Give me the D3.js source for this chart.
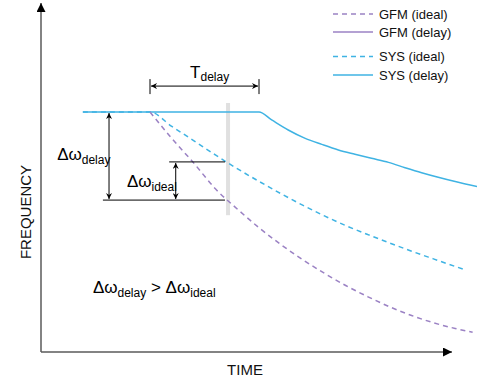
<!DOCTYPE html>
<html>
<head>
<meta charset="utf-8">
<script src="https://cdn.jsdelivr.net/npm/d3@7"></script>
<style>
  html, body { margin: 0; padding: 0; background: #fff; }
  svg { display: block; font-family: "Liberation Sans", Arial, Helvetica, sans-serif; }
</style>
</head>
<body>
<svg id="chart" width="477" height="385"></svg>
<script>
// ---- Data (time units 0..100, frequency units, nominal = 100) ----
const sysDelayT = [9.6, 50, 52.9, 56.7, 60.6, 64.4, 68.2, 72.0, 75.8, 79.7, 83.5, 87.3, 91.1, 95.0, 100];
const sysDelayF = [100, 100, 96.7, 92.5, 89.0, 86.5, 84.2, 82.4, 80.7, 79.0, 76.8, 74.7, 72.8, 71.0, 68.9];

const sysIdealT = [9.6, 25, 30, 35, 40, 45, 50, 55, 60, 65, 70, 75, 80, 85, 90, 97];
const sysIdealF = [100, 100, 94, 88.1, 82.1, 76.4, 71.1, 66.0, 61.2, 56.7, 52.6, 48.9, 45.4, 42.0, 38.8, 34.4];

const gfmIdealT = [25, 30, 35, 40, 45, 50, 55, 60, 65, 70, 75, 80, 85, 90, 95, 99];
const gfmIdealF = [100, 89, 78.8, 68, 59.6, 51.8, 44.8, 38.5, 32.8, 27.6, 23.0, 18.8, 15.2, 12.2, 9.8, 8.2];

const legendLabels = ["GFM (ideal)", "GFM (delay)", "SYS (ideal)", "SYS (delay)"];

// annotation values
const tStart = 25, tEnd = 50;          // T_delay span
const tMarker = 42.2;                  // measurement instant
const fNominal = 100;
const fAtMarkerSys = 79.2;             // SYS ideal at marker
const fAtMarkerGfm = 63.3;             // GFM ideal at marker

const svg = d3.select("#chart");

const x = d3.scaleLinear().domain([0, 100]).range([41, 477]);
const y = d3.scaleLinear().domain([0, 100]).range([352, 112]);

const BLUE = "#3fb3e3";
const PURPLE = "#9b82c4";
const AXIS = "#5a5a5a";

// markers
const defs = svg.append("defs");
defs.append("marker").attr("id", "axArrow").attr("viewBox", "0 0 10 10")
  .attr("refX", 10).attr("refY", 5).attr("markerWidth", 10).attr("markerHeight", 9)
  .attr("markerUnits", "userSpaceOnUse").attr("orient", "auto")
  .append("path").attr("d", "M0,0 L10,5 L0,10 Z").attr("fill", "#000");
defs.append("marker").attr("id", "annEnd").attr("viewBox", "0 0 10 10")
  .attr("refX", 10).attr("refY", 5).attr("markerWidth", 8).attr("markerHeight", 6)
  .attr("markerUnits", "userSpaceOnUse").attr("orient", "auto")
  .append("path").attr("d", "M0,0 L10,5 L0,10 L3,5 Z").attr("fill", "#000");
defs.append("marker").attr("id", "annStart").attr("viewBox", "0 0 10 10")
  .attr("refX", 0).attr("refY", 5).attr("markerWidth", 8).attr("markerHeight", 6)
  .attr("markerUnits", "userSpaceOnUse").attr("orient", "auto")
  .append("path").attr("d", "M10,0 L0,5 L10,10 L7,5 Z").attr("fill", "#000");

// axes
svg.append("line").attr("x1", x(0)).attr("y1", y(0)).attr("x2", x(0)).attr("y2", 3)
  .attr("stroke", AXIS).attr("stroke-width", 1.5).attr("marker-end", "url(#axArrow)");
svg.append("line").attr("x1", x(0)).attr("y1", y(0)).attr("x2", 452).attr("y2", y(0))
  .attr("stroke", AXIS).attr("stroke-width", 1.5).attr("marker-end", "url(#axArrow)");

svg.append("text").attr("transform", `translate(31,${212}) rotate(-90)`)
  .attr("text-anchor", "middle").attr("font-size", 15).attr("fill", "#111").text("FREQUENCY");
svg.append("text").attr("x", 245).attr("y", 375)
  .attr("text-anchor", "middle").attr("font-size", 15).attr("fill", "#111").text("TIME");

// grey marker bar
svg.append("line").attr("x1", x(42.9)).attr("x2", x(42.9))
  .attr("y1", y(103.75)).attr("y2", y(57))
  .attr("stroke", "#e0e0e0").attr("stroke-width", 4);

const line = d3.line().x(d => x(d[0])).y(d => y(d[1])).curve(d3.curveMonotoneX);
const zip = (a, b) => a.map((v, i) => [v, b[i]]);

svg.append("path").attr("d", line(zip(sysDelayT, sysDelayF)))
  .attr("fill", "none").attr("stroke", BLUE).attr("stroke-width", 1.5);
svg.append("path").attr("d", line(zip(sysIdealT, sysIdealF)))
  .attr("fill", "none").attr("stroke", BLUE).attr("stroke-width", 1.5).attr("stroke-dasharray", "5,4");
svg.append("path").attr("d", line(zip(gfmIdealT, gfmIdealF)))
  .attr("fill", "none").attr("stroke", PURPLE).attr("stroke-width", 1.5).attr("stroke-dasharray", "5,4");

// annotations
const ann = svg.append("g").attr("stroke", "#000").attr("stroke-width", 1);
// T_delay
const fT = 110.8;
ann.append("line").attr("x1", x(tStart) + 1).attr("x2", x(tEnd) - 1).attr("y1", y(fT)).attr("y2", y(fT))
  .attr("marker-start", "url(#annStart)").attr("marker-end", "url(#annEnd)");
ann.append("line").attr("x1", x(tStart)).attr("x2", x(tStart)).attr("y1", y(fT) - 7).attr("y2", y(fT) + 8);
ann.append("line").attr("x1", x(tEnd)).attr("x2", x(tEnd)).attr("y1", y(fT) - 7).attr("y2", y(fT) + 8);
// Δω_delay
ann.append("line").attr("x1", x(15.6)).attr("x2", x(15.6)).attr("y1", y(fNominal) + 1).attr("y2", y(fAtMarkerGfm) - 1)
  .attr("marker-start", "url(#annStart)").attr("marker-end", "url(#annEnd)");
ann.append("line").attr("x1", x(14.2)).attr("x2", x(tMarker)).attr("y1", y(fAtMarkerGfm)).attr("y2", y(fAtMarkerGfm));
// Δω_ideal
ann.append("line").attr("x1", x(29.4)).attr("x2", x(tMarker)).attr("y1", y(fAtMarkerSys)).attr("y2", y(fAtMarkerSys));
ann.append("line").attr("x1", x(30.9)).attr("x2", x(30.9)).attr("y1", y(fAtMarkerSys) + 1).attr("y2", y(fAtMarkerGfm) - 1)
  .attr("marker-start", "url(#annStart)").attr("marker-end", "url(#annEnd)");

function subLabel(xp, yp, parts) {
  const t = svg.append("text").attr("x", xp).attr("y", yp).attr("fill", "#000");
  parts.forEach(p => {
    t.append("tspan").attr("font-size", p.sub ? 12 : 17).attr("dy", p.dy || 0).text(p.s);
  });
  return t;
}
subLabel(x(34.2), y(114.2), [{s: "T"}, {s: "delay", sub: true, dy: 3}]);
subLabel(x(3.7), y(80), [{s: "Δω"}, {s: "delay", sub: true, dy: 4}]);
subLabel(x(19.7), y(68.75), [{s: "Δω"}, {s: "ideal", sub: true, dy: 4}]);
subLabel(x(11.9), y(24.6), [{s: "Δω"}, {s: "delay", sub: true, dy: 4}, {s: " > ", dy: -4},
  {s: "Δω"}, {s: "ideal", sub: true, dy: 4}]);

// legend
const legendRows = [
  {label: legendLabels[0], color: PURPLE, dash: "5,4", y: 14},
  {label: legendLabels[1], color: PURPLE, dash: null, y: 32},
  {label: legendLabels[2], color: BLUE, dash: "5,4", y: 56.5},
  {label: legendLabels[3], color: BLUE, dash: null, y: 75}
];
const lg = svg.append("g");
legendRows.forEach(r => {
  lg.append("line").attr("x1", 333).attr("x2", 373).attr("y1", r.y).attr("y2", r.y)
    .attr("stroke", r.color).attr("stroke-width", 1.5).attr("stroke-dasharray", r.dash);
  lg.append("text").attr("x", 379).attr("y", r.y + 4.5).attr("font-size", 13).attr("fill", "#111").text(r.label);
});
</script>
</body>
</html>
